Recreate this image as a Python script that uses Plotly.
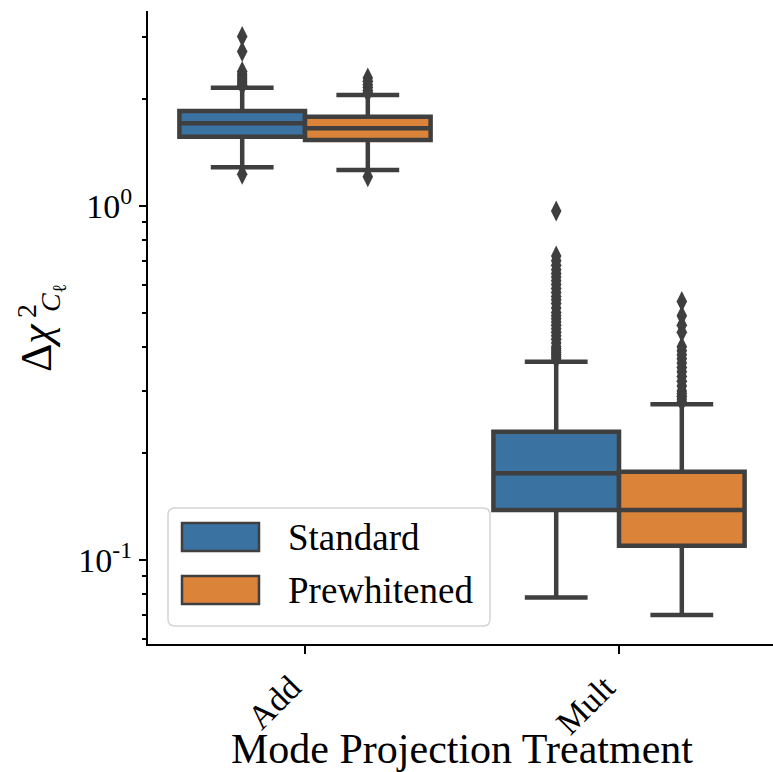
import plotly.graph_objects as go

# ---------------- data ----------------
categories = ["Add", "Mult"]
cat_pos = [0, 1]
series = ["Standard", "Prewhitened"]

std_q1 = [1.569, 0.1384]
std_med = [1.713, 0.1758]
std_q3 = [1.855, 0.2304]
std_lo = [1.286, 0.0783]
std_hi = [2.159, 0.3633]

pw_q1 = [1.536, 0.1097]
pw_med = [1.658, 0.1384]
pw_q3 = [1.788, 0.1776]
pw_lo = [1.264, 0.0699]
pw_hi = [2.059, 0.2754]

std_out_add = [3.01, 2.73, 2.40, 2.36, 2.33, 2.30, 2.27, 2.24, 2.21, 2.19, 1.23]
std_out_mult = [0.968, 0.722, 0.70, 0.68, 0.66, 0.645, 0.63, 0.615, 0.60, 0.585,
                0.57, 0.555, 0.543, 0.53, 0.515, 0.50, 0.49, 0.48, 0.47, 0.46,
                0.45, 0.44, 0.43, 0.42, 0.41, 0.40, 0.395, 0.39, 0.385, 0.38,
                0.375, 0.37]
pw_out_add = [2.30, 2.25, 2.20, 2.16, 2.12, 2.09, 1.21]
pw_out_mult = [0.537, 0.49, 0.46, 0.44, 0.40, 0.39, 0.38, 0.37, 0.36, 0.35,
               0.34, 0.33, 0.32, 0.31, 0.30, 0.295, 0.29, 0.285, 0.28]

y_major = [0.1, 1]
y_major_text = ["10<sup>-1</sup>", "10<sup>0</sup>"]
y_minor = [0.06, 0.07, 0.08, 0.09, 0.2, 0.3, 0.4, 0.5, 0.6, 0.7, 0.8, 0.9, 2, 3]

# ---------------- style ----------------
W, H = 773, 772
ML, MR, MT, MB = 148, 0, 11, 128
PW, PH = W - ML - MR, H - MT - MB
EDGE = "#3f3f3f"
BLUE = "#3a72a2"
ORANGE = "#dc833a"
FONT = "Liberation Serif"
OFF = 0.2


def px(x):
    return (x - ML) / PW


def py(y):
    return (H - MB - y) / PH


fig = go.Figure()

for name, q1, med, q3, lo, hi, col, sgn in [
    ("Standard", std_q1, std_med, std_q3, std_lo, std_hi, BLUE, -1),
    ("Prewhitened", pw_q1, pw_med, pw_q3, pw_lo, pw_hi, ORANGE, 1),
]:
    fig.add_trace(go.Box(
        x=[c + sgn * OFF for c in cat_pos],
        q1=q1, median=med, q3=q3, lowerfence=lo, upperfence=hi,
        width=0.4, whiskerwidth=0.5, boxpoints=False,
        fillcolor=col, line=dict(color=EDGE, width=4.5),
        name=name, showlegend=False, hoverinfo="skip",
    ))

for vals, xpos in [
    (std_out_add, cat_pos[0] - OFF), (std_out_mult, cat_pos[1] - OFF),
    (pw_out_add, cat_pos[0] + OFF), (pw_out_mult, cat_pos[1] + OFF),
]:
    fig.add_trace(go.Scatter(
        x=[xpos] * len(vals), y=vals, mode="markers",
        marker=dict(symbol="diamond-tall", size=15, color=EDGE,
                    line=dict(width=0)),
        showlegend=False, hoverinfo="skip",
    ))

fig.update_layout(
    width=W, height=H,
    margin=dict(l=ML, r=MR, t=MT, b=MB, autoexpand=False),
    paper_bgcolor="white", plot_bgcolor="white",
    font=dict(family=FONT, color="black"),
    boxmode="overlay",
    xaxis=dict(
        range=[-0.5, 1.4904], tickvals=cat_pos, ticktext=categories,
        tickangle=-45, ticks="outside", ticklen=8, tickwidth=2,
        tickcolor="black", showline=True, linecolor="black", linewidth=2,
        ticklabelshift=-14,
        showgrid=False, zeroline=False, tickfont=dict(size=34, family=FONT),
    ),
    yaxis=dict(
        type="log", range=[-1.2373, 0.5508],
        tickvals=y_major, ticktext=y_major_text,
        ticks="outside", ticklen=7, tickwidth=2, tickcolor="black",
        minor=dict(tickvals=y_minor, ticks="outside", ticklen=4,
                   tickwidth=1.5, tickcolor="black", showgrid=False),
        showline=True, linecolor="black", linewidth=2,
        showgrid=False, zeroline=False, tickfont=dict(size=34, family=FONT),
    ),
)

# x axis title
fig.add_annotation(text="Mode Projection Treatment", xref="paper", yref="paper",
                   x=px(462), y=py(749), xanchor="center", yanchor="middle",
                   showarrow=False, font=dict(size=42, family=FONT))

# y axis title (pieces, rotated)
fig.add_annotation(text="Δ<i>χ</i>", xref="paper", yref="paper",
                   x=px(36), y=py(348), xanchor="center", yanchor="middle",
                   textangle=-90, showarrow=False, font=dict(size=44, family=FONT))
fig.add_annotation(text="2", xref="paper", yref="paper",
                   x=px(26), y=py(311), xanchor="center", yanchor="middle",
                   textangle=-90, showarrow=False, font=dict(size=28, family=FONT))
fig.add_annotation(text="<i>C</i><sub>ℓ</sub>", xref="paper", yref="paper",
                   x=px(52), y=py(298), xanchor="center", yanchor="middle",
                   textangle=-90, showarrow=False, font=dict(size=28, family=FONT))

# custom legend
x0, x1, y0, y1, r = 168, 490, 508, 626, 7


def P(x, y):
    return f"{px(x):.5f},{py(y):.5f}"


path = (f"M {P(x0 + r, y0)} L {P(x1 - r, y0)} Q {P(x1, y0)} {P(x1, y0 + r)} "
        f"L {P(x1, y1 - r)} Q {P(x1, y1)} {P(x1 - r, y1)} "
        f"L {P(x0 + r, y1)} Q {P(x0, y1)} {P(x0, y1 - r)} "
        f"L {P(x0, y0 + r)} Q {P(x0, y0)} {P(x0 + r, y0)} Z")
fig.add_shape(type="path", path=path, xref="paper", yref="paper",
              fillcolor="rgba(255,255,255,0.8)",
              line=dict(color="#d4d4d4", width=1.5), layer="above")

for name, col, ya, yb in [("Standard", BLUE, 523, 551),
                          ("Prewhitened", ORANGE, 576, 604)]:
    fig.add_shape(type="rect", xref="paper", yref="paper",
                  x0=px(182), x1=px(259), y0=py(ya), y1=py(yb),
                  fillcolor=col, line=dict(color=EDGE, width=2.5), layer="above")
    fig.add_annotation(text=name, xref="paper", yref="paper",
                       x=px(286), y=py((ya + yb) / 2), xanchor="left",
                       yanchor="middle", showarrow=False,
                       font=dict(size=37, family=FONT))

fig.write_html("out.html")
